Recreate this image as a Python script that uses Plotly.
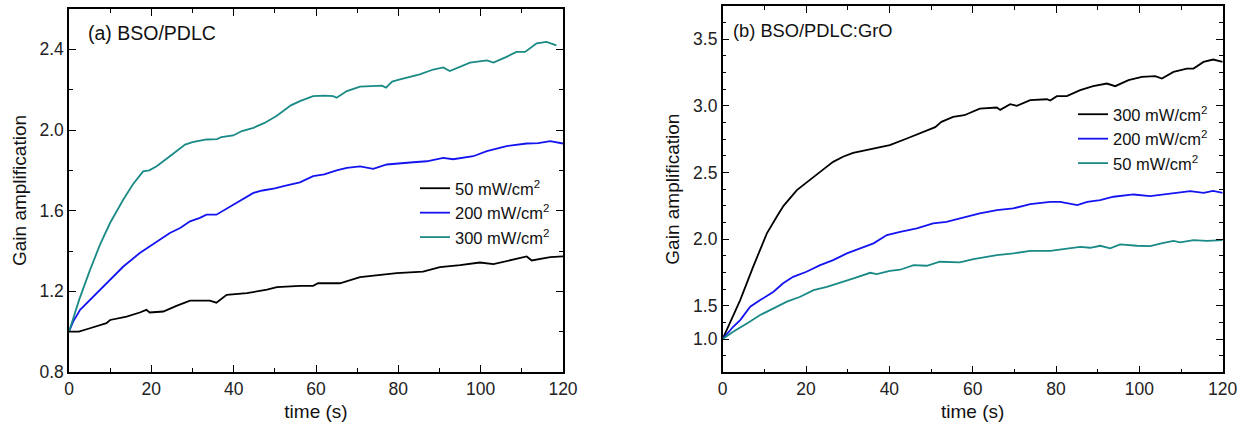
import plotly.graph_objects as go

# ---------------- data: panel (a) BSO/PDLC ----------------
a_t_50 = [0, 2.4, 5.1, 7.5, 9.1, 10, 14, 17.2, 18.8, 19.6, 22.9, 26.1, 29.4, 34.2, 35.8, 38.3, 43.2, 48.1,
          50.5, 56.1, 59.3, 60.5, 65.8, 70.7, 75.5, 79.6, 86, 90.1, 95, 99.8, 103.1, 108, 111.2, 112.4, 116.9, 120]
a_g_50 = [1.0, 1.0, 1.017, 1.034, 1.042, 1.058, 1.075, 1.095, 1.108, 1.095, 1.1, 1.128, 1.154, 1.154, 1.144,
          1.183, 1.191, 1.208, 1.221, 1.227, 1.227, 1.24, 1.24, 1.27, 1.282, 1.29, 1.298, 1.32, 1.33, 1.343,
          1.335, 1.36, 1.373, 1.353, 1.37, 1.373]

a_t_200 = [0, 1, 2.7, 5.9, 10, 13.2, 17.2, 21.3, 24.5, 27, 29.4, 31.8, 33.4, 35.8, 37.5, 39.9, 42, 44.8, 47,
           50, 52.9, 56.1, 59.3, 62, 65, 67.5, 70.7, 73.9, 77.2, 80, 83.6, 86.9, 90.9, 93.3, 98.2, 101.5,
           106.3, 111.2, 114, 116.9, 120]
a_g_200 = [1.0, 1.05, 1.108, 1.174, 1.257, 1.323, 1.39, 1.448, 1.489, 1.514, 1.547, 1.564, 1.58, 1.58, 1.6,
           1.63, 1.655, 1.688, 1.70, 1.71, 1.725, 1.74, 1.771, 1.78, 1.80, 1.812, 1.82, 1.807, 1.829, 1.835,
           1.84, 1.845, 1.862, 1.855, 1.87, 1.895, 1.92, 1.933, 1.935, 1.945, 1.933]

a_t_300 = [0, 2.5, 5, 7.5, 10, 13.2, 15.5, 18, 19.5, 21.3, 24.5, 28.2, 30, 33.4, 36, 37, 39.9, 42, 44.8,
           47.5, 50.4, 52, 53.9, 56.1, 59.3, 62, 64.2, 65, 67.5, 70.7, 73, 76, 77, 78.5, 80.4, 83, 85.2, 88.5,
           90.9, 92.5, 95, 97.4, 101.5, 103.1, 106, 108.7, 110.8, 113.6, 116, 118.4]
a_g_300 = [1.0, 1.16, 1.30, 1.43, 1.54, 1.655, 1.73, 1.795, 1.80, 1.82, 1.87, 1.928, 1.94, 1.953, 1.955,
           1.965, 1.973, 1.995, 2.011, 2.035, 2.069, 2.095, 2.122, 2.143, 2.168, 2.17, 2.168, 2.16, 2.193,
           2.215, 2.218, 2.22, 2.21, 2.24, 2.251, 2.265, 2.276, 2.30, 2.31, 2.292, 2.315, 2.334, 2.345, 2.334,
           2.36, 2.387, 2.387, 2.43, 2.437, 2.42]

# ---------------- data: panel (b) BSO/PDLC:GrO ----------------
b_t_300 = [0, 2, 4.2, 7.3, 10.6, 13, 14.6, 17.8, 21.7, 24, 26.5, 29, 31.3, 36.1, 40.1, 44.2, 49, 51, 52.5,
           55.3, 58, 60.1, 61.7, 65.8, 66.6, 69, 70.6, 73.8, 77.8, 78.6, 80.2, 82.6, 85.8, 88.9, 92.2, 94.2,
           97.4, 100.6, 103.8, 105.4, 108.2, 111.4, 113, 115.4, 117.7, 120]
b_g_300 = [1.25, 1.39, 1.542, 1.792, 2.043, 2.17, 2.25, 2.368, 2.467, 2.52, 2.58, 2.62, 2.647, 2.68, 2.705,
           2.755, 2.818, 2.84, 2.88, 2.917, 2.93, 2.955, 2.98, 2.988, 2.97, 3.013, 3.0, 3.043, 3.05, 3.04,
           3.073, 3.073, 3.118, 3.148, 3.168, 3.148, 3.193, 3.218, 3.223, 3.205, 3.255, 3.28, 3.28, 3.33,
           3.348, 3.33]

b_t_200 = [0, 2.5, 4.2, 6.6, 9, 12.2, 14.5, 16.9, 20.1, 23.4, 26.5, 29.8, 33, 36.2, 39.4, 42.6, 46.6, 50.5,
           53.7, 57, 58.6, 61.7, 65.8, 69.7, 73.8, 78.6, 81, 85.1, 87.5, 90.6, 93.8, 98.6, 102.6, 108.2, 112.2,
           115.4, 117.7, 120]
b_g_200 = [1.25, 1.342, 1.392, 1.492, 1.542, 1.605, 1.668, 1.717, 1.755, 1.805, 1.842, 1.893, 1.93, 1.968,
           2.03, 2.055, 2.08, 2.118, 2.13, 2.155, 2.167, 2.193, 2.218, 2.23, 2.263, 2.28, 2.28, 2.255, 2.28,
           2.293, 2.318, 2.335, 2.323, 2.343, 2.36, 2.347, 2.362, 2.347]

b_t_50 = [0, 2.5, 5.8, 9, 12.2, 15.4, 18.6, 21.8, 25, 28.2, 31.4, 35.4, 37, 40.1, 42.6, 45.8, 49, 52.1, 56.9,
          60.2, 65.8, 69.8, 73.8, 78.6, 82.6, 85.8, 88.2, 90.6, 93, 95.4, 99.4, 102.6, 105.8, 108.2, 109.8,
          113, 116.2, 120]
b_g_50 = [1.25, 1.305, 1.367, 1.43, 1.48, 1.53, 1.567, 1.617, 1.642, 1.672, 1.705, 1.747, 1.737, 1.762, 1.77,
          1.805, 1.8, 1.83, 1.825, 1.85, 1.88, 1.893, 1.912, 1.912, 1.93, 1.942, 1.935, 1.95, 1.93, 1.96, 1.95,
          1.947, 1.972, 1.987, 1.975, 1.992, 1.987, 1.992]

# tick labels
x_tickvals = [0, 20, 40, 60, 80, 100, 120]
a_ytickvals = [0.8, 1.2, 1.6, 2.0, 2.4]
a_yticktext = ["0.8", "1.2", "1.6", "2.0", "2.4"]
b_ytickvals = [1.25, 1.5, 2.0, 2.5, 3.0, 3.5]
b_yticktext = ["1.0", "1.5", "2.0", "2.5", "3.0", "3.5"]

BLACK = "#000000"
BLUE = "#1414f0"
TEAL = "#1a8a86"
FONT = "Liberation Sans"
LW = 1.8

fig = go.Figure()
fig.add_trace(go.Scatter(x=a_t_50, y=a_g_50, mode="lines", line=dict(color=BLACK, width=LW),
                         name="50 mW/cm<sup>2</sup>", xaxis="x", yaxis="y", legend="legend"))
fig.add_trace(go.Scatter(x=a_t_200, y=a_g_200, mode="lines", line=dict(color=BLUE, width=LW),
                         name="200 mW/cm<sup>2</sup>", xaxis="x", yaxis="y", legend="legend"))
fig.add_trace(go.Scatter(x=a_t_300, y=a_g_300, mode="lines", line=dict(color=TEAL, width=LW),
                         name="300 mW/cm<sup>2</sup>", xaxis="x", yaxis="y", legend="legend"))
fig.add_trace(go.Scatter(x=b_t_300, y=b_g_300, mode="lines", line=dict(color=BLACK, width=LW),
                         name="300 mW/cm<sup>2</sup>", xaxis="x2", yaxis="y2", legend="legend2"))
fig.add_trace(go.Scatter(x=b_t_200, y=b_g_200, mode="lines", line=dict(color=BLUE, width=LW),
                         name="200 mW/cm<sup>2</sup>", xaxis="x2", yaxis="y2", legend="legend2"))
fig.add_trace(go.Scatter(x=b_t_50, y=b_g_50, mode="lines", line=dict(color=TEAL, width=LW),
                         name="50 mW/cm<sup>2</sup>", xaxis="x2", yaxis="y2", legend="legend2"))

W, H = 1245, 430
TICKSZ = 17.5
TITLESZ = 19


def px(v):
    return v / W


def py(v):
    return 1 - v / H


common = dict(showline=True, linecolor="black", linewidth=1.5, mirror="allticks",
              ticks="inside", ticklen=7, tickwidth=1.3, tickcolor="black",
              showgrid=False, zeroline=False, automargin=False,
              tickfont=dict(family=FONT, size=TICKSZ, color="#222"))

xa = dict(common, range=[0, 120], tickvals=x_tickvals,
          minor=dict(ticks="inside", ticklen=4, tickwidth=1.3, tickcolor="black", dtick=10, tick0=0,
                     showgrid=False),
          title=dict(text="time (s)", font=dict(family=FONT, size=TITLESZ, color="#111"), standoff=7))

ytitle = dict(text="Gain amplification", font=dict(family=FONT, size=TITLESZ, color="#111"), standoff=8)

fig.update_layout(
    width=W, height=H,
    margin=dict(l=0, r=0, t=0, b=0, autoexpand=False),
    paper_bgcolor="white", plot_bgcolor="white",
    showlegend=True,
    xaxis=dict(xa, domain=[px(69), px(563)], anchor="y"),
    xaxis2=dict(xa, domain=[px(722.7), px(1222.7)], anchor="y2"),
    yaxis=dict(common, range=[0.8, 2.6], tickvals=a_ytickvals, ticktext=a_yticktext,
               domain=[py(372), py(9)], anchor="x",
               minor=dict(ticks="inside", ticklen=4, tickwidth=1.3, tickcolor="black", dtick=0.2,
                          tick0=0.8, showgrid=False),
               title=ytitle),
    yaxis2=dict(common, range=[1.0, 3.75], tickvals=b_ytickvals, ticktext=b_yticktext,
                domain=[py(372.3), py(6)], anchor="x2",
                minor=dict(ticks="inside", ticklen=4, tickwidth=1.3, tickcolor="black", dtick=0.125,
                           tick0=1.0, showgrid=False),
                title=ytitle),
    legend=dict(x=px(415), y=py(171), xanchor="left", yanchor="top",
                bgcolor="rgba(0,0,0,0)", borderwidth=0, tracegroupgap=0, itemwidth=30,
                font=dict(family=FONT, size=16.5, color="#111")),
    legend2=dict(x=px(1073), y=py(97), xanchor="left", yanchor="top",
                 bgcolor="rgba(0,0,0,0)", borderwidth=0, tracegroupgap=0, itemwidth=30,
                 font=dict(family=FONT, size=16.5, color="#111")),
    annotations=[
        dict(text="(a) BSO/PDLC", x=px(86), y=py(33), xref="paper", yref="paper",
             xanchor="left", yanchor="middle", showarrow=False,
             font=dict(family=FONT, size=19.5, color="#111")),
        dict(text="(b) BSO/PDLC:GrO", x=px(731), y=py(30), xref="paper", yref="paper",
             xanchor="left", yanchor="middle", showarrow=False,
             font=dict(family=FONT, size=18.3, color="#111")),
    ],
)

# remove the browser's default 8 px body margin so the figure sits at the page origin
fig.write_html("out.html", config={"displayModeBar": False},
               post_script="document.body.style.margin='0';")
